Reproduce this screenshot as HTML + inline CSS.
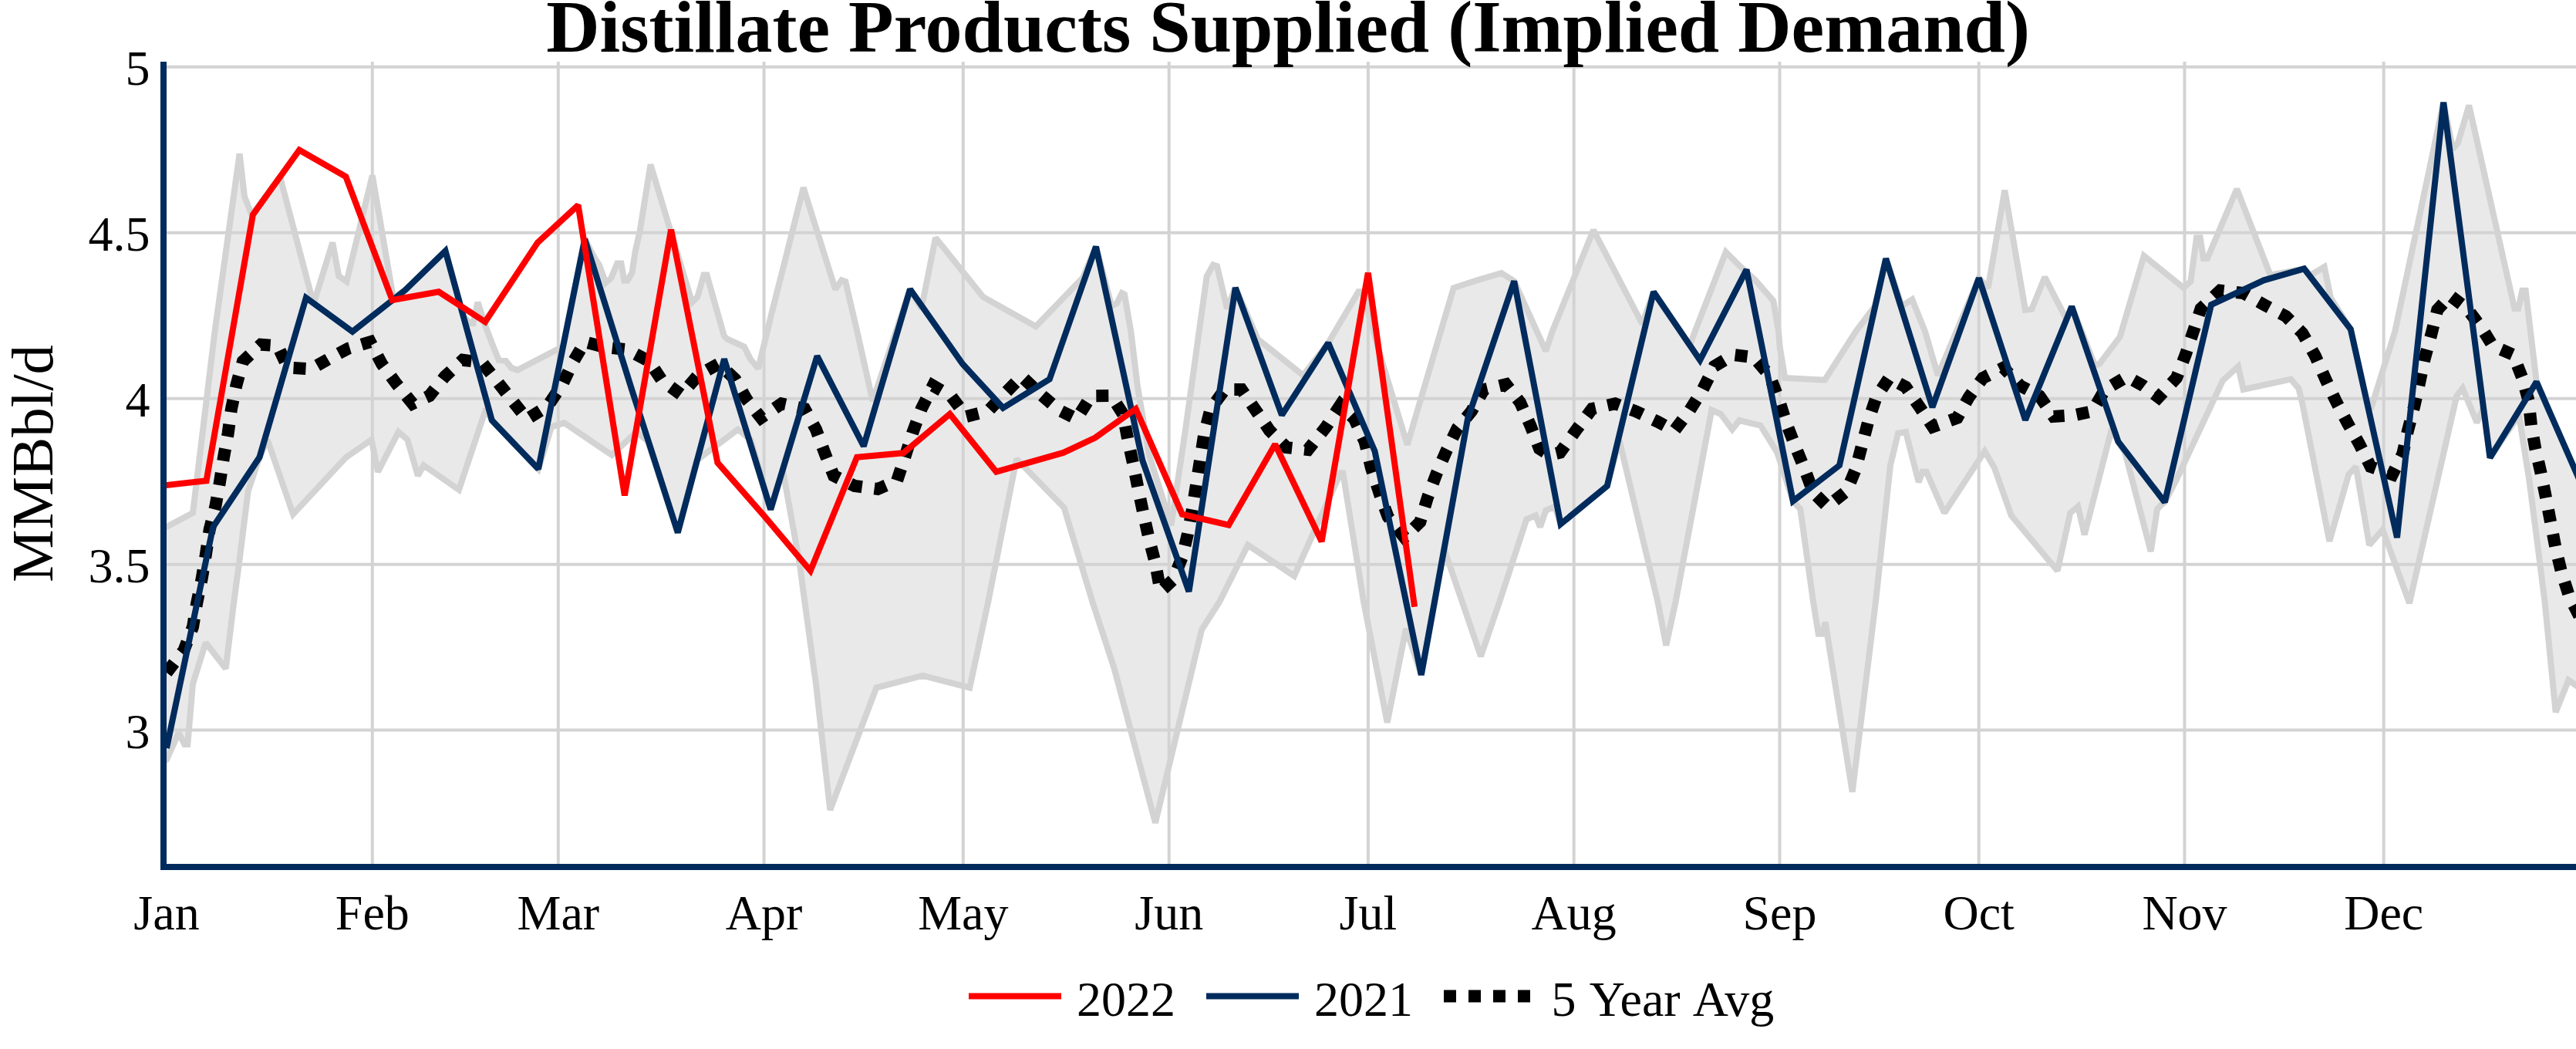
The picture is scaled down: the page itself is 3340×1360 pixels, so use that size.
<!DOCTYPE html>
<html lang="en"><head><meta charset="utf-8"><title>Distillate Products Supplied (Implied Demand)</title>
<style>html,body{margin:0;padding:0;background:#fff}svg{display:block}text{font-family:"Liberation Serif","Times New Roman",Times,serif;fill:#000}</style></head><body>
<svg width="3340" height="1360" viewBox="0 0 3340 1360">
<rect x="0" y="0" width="3340" height="1360" fill="#ffffff"/>
<defs><clipPath id="plot"><rect x="216" y="80" width="3124" height="1040"/></clipPath></defs>
<g stroke="#d3d3d3" stroke-width="4" fill="none">
<line x1="482.8" y1="80" x2="482.8" y2="1120"/>
<line x1="723.8" y1="80" x2="723.8" y2="1120"/>
<line x1="990.6" y1="80" x2="990.6" y2="1120"/>
<line x1="1248.8" y1="80" x2="1248.8" y2="1120"/>
<line x1="1515.7" y1="80" x2="1515.7" y2="1120"/>
<line x1="1773.9" y1="80" x2="1773.9" y2="1120"/>
<line x1="2040.7" y1="80" x2="2040.7" y2="1120"/>
<line x1="2307.5" y1="80" x2="2307.5" y2="1120"/>
<line x1="2565.7" y1="80" x2="2565.7" y2="1120"/>
<line x1="2832.5" y1="80" x2="2832.5" y2="1120"/>
<line x1="3090.7" y1="80" x2="3090.7" y2="1120"/>
<line x1="216" y1="86.75" x2="3340" y2="86.75"/>
<line x1="216" y1="301.7" x2="3340" y2="301.7"/>
<line x1="216" y1="516.7" x2="3340" y2="516.7"/>
<line x1="216" y1="731.7" x2="3340" y2="731.7"/>
<line x1="216" y1="946.5" x2="3340" y2="946.5"/>
</g>
<g clip-path="url(#plot)" fill="none" stroke-miterlimit="2">
<polygon points="207.0,688.0 216.0,683.0 250.0,665.0 278.5,430.0 310.6,199.2 317.0,254.8 326.5,279.0 363.0,229.0 406.5,394.0 431.2,314.4 439.3,357.9 449.4,364.9 482.8,227.5 508.3,376.8 510.0,387.0 525.4,376.1 577.5,325.4 601.0,410.0 609.3,419.2 613.4,419.2 619.5,392.0 629.6,423.3 639.7,449.6 646.7,466.7 655.8,467.7 662.9,476.8 671.0,479.9 723.5,452.6 730.0,449.0 758.2,310.0 771.0,334.4 777.0,343.5 785.2,366.7 792.3,360.6 800.3,341.4 805.4,341.4 809.4,363.7 813.5,363.7 819.5,353.6 823.6,326.3 829.6,300.0 843.5,213.3 897.3,392.0 904.4,384.9 912.5,356.6 916.5,356.6 938.8,435.4 942.8,439.5 965.0,449.6 973.1,465.7 983.2,477.8 999.8,409.0 1041.7,243.3 1083.0,375.0 1091.3,363.3 1096.3,365.0 1111.3,429.7 1131.5,520.0 1180.0,375.0 1194.7,400.0 1213.0,308.3 1274.7,385.0 1343.0,423.3 1404.0,360.0 1421.0,319.8 1441.3,396.7 1448.0,393.3 1454.7,380.0 1458.0,381.7 1466.3,429.7 1474.8,500.0 1490.0,590.0 1518.5,681.0 1536.6,560.0 1545.0,500.0 1554.7,429.7 1564.7,358.3 1573.0,343.3 1578.0,345.0 1591.0,400.0 1601.8,373.0 1631.0,440.0 1689.7,486.7 1722.2,444.6 1761.3,378.3 1766.3,378.3 1791.3,466.7 1824.7,576.7 1884.7,373.3 1915.3,363.3 1946.7,354.0 1963.2,364.5 1992.7,429.7 2004.3,455.0 2012.7,429.7 2066.0,298.3 2129.3,420.0 2144.0,378.4 2191.0,448.0 2197.7,429.7 2237.7,326.7 2256.0,345.0 2276.0,363.3 2299.3,390.0 2306.0,429.7 2307.7,450.0 2314.3,490.0 2366.0,492.7 2406.0,430.0 2431.0,397.0 2445.2,335.3 2466.0,396.7 2479.3,388.3 2496.0,429.7 2512.7,486.7 2565.8,360.5 2577.7,373.3 2599.3,246.7 2626.0,401.7 2634.3,400.7 2651.3,359.3 2679.0,413.3 2686.2,397.4 2716.0,473.3 2722.0,472.0 2748.7,436.7 2779.7,331.7 2831.3,373.3 2840.3,365.0 2848.0,308.3 2852.7,308.3 2857.0,335.0 2862.0,335.0 2900.3,245.0 2943.7,356.7 2987.5,348.3 2995.3,357.0 3013.7,346.0 3022.0,386.3 3047.8,426.7 3070.0,526.0 3075.0,527.0 3105.3,429.7 3168.2,132.7 3180.3,193.3 3187.0,185.0 3201.3,136.7 3260.3,400.0 3265.3,400.0 3270.3,376.7 3274.7,376.7 3288.8,495.2 3349.0,632.7 3345.0,892.0 3330.3,881.7 3313.7,923.3 3299.5,780.0 3289.0,697.0 3279.0,620.0 3266.0,538.0 3228.5,593.5 3220.0,528.0 3211.5,548.0 3193.0,503.3 3185.3,513.3 3124.0,782.0 3089.3,686.7 3072.0,706.7 3054.7,605.0 3045.3,615.0 3020.3,701.7 2985.3,523.3 2980.3,503.3 2970.3,491.7 2908.7,505.0 2902.0,475.0 2882.0,493.3 2822.0,621.7 2806.8,651.0 2803.7,653.3 2797.0,660.0 2788.7,715.0 2755.3,586.7 2746.5,572.7 2738.0,556.0 2702.7,693.3 2694.3,656.7 2684.3,665.0 2667.7,740.0 2607.7,668.3 2586.0,606.7 2573.3,585.0 2521.0,665.0 2497.7,611.7 2492.7,611.7 2487.7,625.0 2471.0,560.0 2461.0,561.7 2451.0,603.3 2432.0,780.0 2401.7,1026.7 2366.7,806.7 2362.7,821.7 2357.7,821.7 2351.0,780.0 2334.3,660.0 2324.8,649.7 2304.3,586.7 2282.7,551.7 2255.3,545.0 2246.0,556.7 2231.0,536.7 2219.3,531.7 2172.7,779.7 2160.3,836.7 2149.3,779.7 2101.0,576.7 2097.0,580.0 2083.8,630.0 2023.5,679.5 2016.0,656.7 2004.3,661.7 1997.0,683.3 1991.0,668.3 1979.3,673.3 1944.3,780.0 1920.0,851.0 1872.5,712.0 1842.8,875.0 1823.0,815.0 1798.7,936.7 1768.0,779.7 1741.3,613.3 1738.0,613.3 1678.0,746.7 1618.0,706.7 1581.3,780.0 1558.0,816.7 1498.0,1066.7 1444.7,866.7 1416.3,779.7 1379.7,658.3 1318.0,595.0 1281.3,780.0 1257.3,891.7 1196.3,876.0 1136.3,891.7 1076.3,1050.0 1058.0,886.7 1043.3,779.7 1036.7,730.0 1015.0,610.0 999.2,660.5 973.3,570.0 956.7,556.7 903.3,596.7 878.8,690.5 840.0,572.0 825.0,560.0 793.3,590.0 731.7,548.3 715.0,553.3 698.0,608.0 637.8,545.0 630.0,530.0 595.0,635.0 549.3,603.3 541.7,616.7 528.3,570.0 516.7,560.0 490.0,611.7 481.7,570.0 448.3,593.3 380.0,666.7 346.7,570.0 336.5,592.7 321.7,636.7 310.0,730.0 303.3,780.0 292.7,866.7 266.7,833.3 250.0,886.7 243.3,965.0 239.3,965.0 231.7,950.0 216.0,985.0 207.0,990.0" fill="#d3d3d3" fill-opacity="0.5" stroke="none"/>
<polyline points="207.0,990.0 216.0,985.0 231.7,950.0 239.3,965.0 243.3,965.0 250.0,886.7 266.7,833.3 292.7,866.7 303.3,780.0 310.0,730.0 321.7,636.7 336.5,592.7 346.7,570.0 380.0,666.7 448.3,593.3 481.7,570.0 490.0,611.7 516.7,560.0 528.3,570.0 541.7,616.7 549.3,603.3 595.0,635.0 630.0,530.0 637.8,545.0 698.0,608.0 715.0,553.3 731.7,548.3 793.3,590.0 825.0,560.0 840.0,572.0 878.8,690.5 903.3,596.7 956.7,556.7 973.3,570.0 999.2,660.5 1015.0,610.0 1036.7,730.0 1043.3,779.7 1058.0,886.7 1076.3,1050.0 1136.3,891.7 1196.3,876.0 1257.3,891.7 1281.3,780.0 1318.0,595.0 1379.7,658.3 1416.3,779.7 1444.7,866.7 1498.0,1066.7 1558.0,816.7 1581.3,780.0 1618.0,706.7 1678.0,746.7 1738.0,613.3 1741.3,613.3 1768.0,779.7 1798.7,936.7 1823.0,815.0 1842.8,875.0 1872.5,712.0 1920.0,851.0 1944.3,780.0 1979.3,673.3 1991.0,668.3 1997.0,683.3 2004.3,661.7 2016.0,656.7 2023.5,679.5 2083.8,630.0 2097.0,580.0 2101.0,576.7 2149.3,779.7 2160.3,836.7 2172.7,779.7 2219.3,531.7 2231.0,536.7 2246.0,556.7 2255.3,545.0 2282.7,551.7 2304.3,586.7 2324.8,649.7 2334.3,660.0 2351.0,780.0 2357.7,821.7 2362.7,821.7 2366.7,806.7 2401.7,1026.7 2432.0,780.0 2451.0,603.3 2461.0,561.7 2471.0,560.0 2487.7,625.0 2492.7,611.7 2497.7,611.7 2521.0,665.0 2573.3,585.0 2586.0,606.7 2607.7,668.3 2667.7,740.0 2684.3,665.0 2694.3,656.7 2702.7,693.3 2738.0,556.0 2746.5,572.7 2755.3,586.7 2788.7,715.0 2797.0,660.0 2803.7,653.3 2806.8,651.0 2822.0,621.7 2882.0,493.3 2902.0,475.0 2908.7,505.0 2970.3,491.7 2980.3,503.3 2985.3,523.3 3020.3,701.7 3045.3,615.0 3054.7,605.0 3072.0,706.7 3089.3,686.7 3124.0,782.0 3185.3,513.3 3193.0,503.3 3211.5,548.0 3220.0,528.0 3228.5,593.5 3266.0,538.0 3279.0,620.0 3289.0,697.0 3299.5,780.0 3313.7,923.3 3330.3,881.7 3345.0,892.0" stroke="#d3d3d3" stroke-width="8"/>
<polyline points="207.0,688.0 216.0,683.0 250.0,665.0 278.5,430.0 310.6,199.2 317.0,254.8 326.5,279.0 363.0,229.0 406.5,394.0 431.2,314.4 439.3,357.9 449.4,364.9 482.8,227.5 508.3,376.8 510.0,387.0 525.4,376.1 577.5,325.4 601.0,410.0 609.3,419.2 613.4,419.2 619.5,392.0 629.6,423.3 639.7,449.6 646.7,466.7 655.8,467.7 662.9,476.8 671.0,479.9 723.5,452.6 730.0,449.0 758.2,310.0 771.0,334.4 777.0,343.5 785.2,366.7 792.3,360.6 800.3,341.4 805.4,341.4 809.4,363.7 813.5,363.7 819.5,353.6 823.6,326.3 829.6,300.0 843.5,213.3 897.3,392.0 904.4,384.9 912.5,356.6 916.5,356.6 938.8,435.4 942.8,439.5 965.0,449.6 973.1,465.7 983.2,477.8 999.8,409.0 1041.7,243.3 1083.0,375.0 1091.3,363.3 1096.3,365.0 1111.3,429.7 1131.5,520.0 1180.0,375.0 1194.7,400.0 1213.0,308.3 1274.7,385.0 1343.0,423.3 1404.0,360.0 1421.0,319.8 1441.3,396.7 1448.0,393.3 1454.7,380.0 1458.0,381.7 1466.3,429.7 1474.8,500.0 1490.0,590.0 1518.5,681.0 1536.6,560.0 1545.0,500.0 1554.7,429.7 1564.7,358.3 1573.0,343.3 1578.0,345.0 1591.0,400.0 1601.8,373.0 1631.0,440.0 1689.7,486.7 1722.2,444.6 1761.3,378.3 1766.3,378.3 1791.3,466.7 1824.7,576.7 1884.7,373.3 1915.3,363.3 1946.7,354.0 1963.2,364.5 1992.7,429.7 2004.3,455.0 2012.7,429.7 2066.0,298.3 2129.3,420.0 2144.0,378.4 2191.0,448.0 2197.7,429.7 2237.7,326.7 2256.0,345.0 2276.0,363.3 2299.3,390.0 2306.0,429.7 2307.7,450.0 2314.3,490.0 2366.0,492.7 2406.0,430.0 2431.0,397.0 2445.2,335.3 2466.0,396.7 2479.3,388.3 2496.0,429.7 2512.7,486.7 2565.8,360.5 2577.7,373.3 2599.3,246.7 2626.0,401.7 2634.3,400.7 2651.3,359.3 2679.0,413.3 2686.2,397.4 2716.0,473.3 2722.0,472.0 2748.7,436.7 2779.7,331.7 2831.3,373.3 2840.3,365.0 2848.0,308.3 2852.7,308.3 2857.0,335.0 2862.0,335.0 2900.3,245.0 2943.7,356.7 2987.5,348.3 2995.3,357.0 3013.7,346.0 3022.0,386.3 3047.8,426.7 3070.0,526.0 3075.0,527.0 3105.3,429.7 3168.2,132.7 3180.3,193.3 3187.0,185.0 3201.3,136.7 3260.3,400.0 3265.3,400.0 3270.3,376.7 3274.7,376.7 3288.8,495.2 3349.0,632.7" stroke="#d3d3d3" stroke-width="8"/>
<polyline points="216.0,872.0 238.3,843.3 250.0,813.0 255.0,783.0 261.7,750.0 266.7,720.0 271.7,686.7 279.3,656.7 285.0,625.0 290.0,593.0 295.7,561.7 300.0,530.0 306.7,498.3 315.0,468.3 338.3,446.7 360.0,448.3 373.3,476.7 403.3,478.3 426.7,465.0 451.7,451.7 480.0,443.3 495.0,471.7 513.3,496.7 535.0,523.3 556.7,513.3 576.7,488.3 600.0,466.7 625.0,470.0 645.0,495.0 663.3,518.3 683.3,543.3 710.0,526.7 730.0,496.7 741.7,471.7 758.3,443.3 783.3,450.0 813.3,453.3 841.7,468.3 858.3,493.3 883.3,511.7 905.0,486.7 931.7,471.7 953.3,491.7 968.3,518.3 986.7,541.7 1013.3,523.3 1043.3,530.0 1058.0,556.7 1069.7,588.3 1081.0,616.7 1108.0,630.0 1138.0,634.0 1163.0,623.3 1173.0,593.3 1183.0,561.7 1194.7,530.0 1209.7,500.0 1233.0,513.3 1253.0,540.0 1281.0,533.0 1303.0,510.0 1324.7,488.0 1348.0,510.0 1373.0,531.7 1396.0,543.0 1414.7,513.3 1441.0,513.0 1456.0,536.7 1463.0,573.0 1469.7,603.3 1476.3,636.7 1483.0,668.3 1489.7,698.3 1498.0,730.0 1504.7,766.7 1521.0,751.7 1533.0,721.7 1539.7,693.3 1546.3,658.3 1551.3,626.7 1556.3,595.0 1561.3,563.3 1569.7,530.0 1588.0,505.0 1609.7,505.0 1628.0,531.7 1646.0,558.0 1668.0,580.0 1696.0,583.0 1719.7,553.0 1738.0,525.0 1756.0,543.0 1769.7,573.0 1778.0,606.7 1789.7,643.0 1799.7,670.0 1821.0,696.7 1841.3,676.7 1851.0,645.0 1863.0,613.0 1876.0,583.0 1889.7,555.0 1908.0,533.0 1924.0,505.0 1952.7,498.3 1971.0,521.7 1984.3,551.7 1996.0,581.7 2009.0,590.0 2022.7,586.7 2044.3,556.7 2064.3,530.0 2094.3,523.3 2121.0,533.3 2149.3,546.7 2171.0,558.3 2191.0,531.7 2207.7,505.0 2222.7,475.0 2247.7,460.0 2274.3,463.3 2294.3,486.7 2306.0,516.7 2316.0,548.3 2327.7,578.3 2339.3,606.7 2351.0,638.3 2369.3,656.7 2394.3,636.7 2406.0,608.3 2414.3,576.7 2422.7,545.0 2432.7,515.0 2449.3,490.0 2471.0,501.7 2489.3,528.3 2506.0,553.3 2537.7,541.7 2552.7,515.0 2571.0,490.0 2597.7,476.7 2619.3,500.0 2644.3,513.3 2662.7,540.0 2689.3,538.3 2712.7,533.3 2729.3,505.0 2757.7,488.3 2778.7,500.0 2798.7,515.0 2822.0,490.0 2833.7,460.0 2843.7,430.0 2853.7,400.0 2878.7,376.7 2908.7,380.0 2935.3,395.0 2963.7,410.0 2985.3,432.0 3002.0,461.7 3015.3,491.7 3028.7,520.0 3043.7,548.3 3058.7,575.0 3073.7,605.0 3102.0,615.0 3115.3,588.3 3122.0,558.3 3130.3,526.7 3137.0,496.7 3143.7,465.0 3152.0,435.0 3160.3,401.7 3177.0,383.3 3198.7,400.0 3218.7,426.7 3232.0,448.3 3258.7,460.0 3270.3,490.0 3278.7,520.0 3282.0,551.7 3287.2,581.2 3294.7,613.7 3301.0,645.0 3307.2,677.5 3313.5,710.0 3321.0,741.2 3331.0,772.5 3345.0,800.0" stroke="#000" stroke-width="16" stroke-dasharray="16,16"/>
<polyline points="216.0,970.0 276.2,683.3 336.5,592.7 396.8,386.0 457.0,430.0 525.4,376.1 577.5,325.4 637.8,545.0 698.0,608.0 758.2,310.0 818.5,503.0 878.8,690.5 939.0,465.5 999.2,660.5 1059.5,461.7 1119.8,578.5 1180.0,375.0 1248.0,471.7 1300.5,528.8 1360.8,491.7 1421.0,319.8 1481.2,596.7 1541.5,767.0 1601.8,373.0 1662.0,538.2 1722.2,444.6 1782.5,585.0 1842.8,875.0 1903.0,543.3 1963.2,364.5 2023.5,679.5 2083.8,630.0 2144.0,378.4 2204.2,467.0 2264.5,349.6 2324.8,649.7 2385.0,603.3 2445.2,335.3 2505.5,528.0 2565.8,360.5 2626.0,544.6 2686.2,397.4 2746.5,572.7 2806.8,651.0 2867.0,395.0 2935.3,363.3 2987.5,348.3 3047.8,426.7 3108.0,697.0 3168.2,132.7 3228.5,593.5 3288.8,495.2 3349.0,632.7" stroke="#002b5c" stroke-width="8"/>
<polyline points="207.3,630.0 267.6,623.3 327.9,278.3 388.1,194.5 448.4,229.0 508.6,389.0 568.9,378.3 629.1,417.3 697.0,314.5 749.6,266.0 809.9,642.3 870.1,297.7 930.4,600.0 990.6,668.7 1050.8,740.0 1111.1,592.7 1171.3,587.3 1231.6,536.7 1291.8,611.7 1378.7,586.9 1419.9,567.5 1472.6,530.0 1532.8,666.7 1593.1,680.7 1653.3,576.0 1713.6,702.0 1773.8,353.7 1834.1,786.7" stroke="#ff0000" stroke-width="8"/>
</g>
<line x1="212" y1="80" x2="212" y2="1128" stroke="#002b5c" stroke-width="8"/>
<line x1="208" y1="1124" x2="3340" y2="1124" stroke="#002b5c" stroke-width="8"/>
<text x="1670" y="67" font-size="96" font-weight="bold" text-anchor="middle">Distillate Products Supplied (Implied Demand)</text>
<text x="194.5" y="110.2" font-size="64" text-anchor="end">5</text>
<text x="194.5" y="325.2" font-size="64" text-anchor="end">4.5</text>
<text x="194.5" y="540.2" font-size="64" text-anchor="end">4</text>
<text x="194.5" y="755.2" font-size="64" text-anchor="end">3.5</text>
<text x="194.5" y="970.0" font-size="64" text-anchor="end">3</text>
<text x="216.0" y="1205" font-size="64" text-anchor="middle">Jan</text>
<text x="482.8" y="1205" font-size="64" text-anchor="middle">Feb</text>
<text x="723.8" y="1205" font-size="64" text-anchor="middle">Mar</text>
<text x="990.6" y="1205" font-size="64" text-anchor="middle">Apr</text>
<text x="1248.8" y="1205" font-size="64" text-anchor="middle">May</text>
<text x="1515.7" y="1205" font-size="64" text-anchor="middle">Jun</text>
<text x="1773.9" y="1205" font-size="64" text-anchor="middle">Jul</text>
<text x="2040.7" y="1205" font-size="64" text-anchor="middle">Aug</text>
<text x="2307.5" y="1205" font-size="64" text-anchor="middle">Sep</text>
<text x="2565.7" y="1205" font-size="64" text-anchor="middle">Oct</text>
<text x="2832.5" y="1205" font-size="64" text-anchor="middle">Nov</text>
<text x="3090.7" y="1205" font-size="64" text-anchor="middle">Dec</text>
<text transform="translate(67.5,601) rotate(-90)" font-size="77" text-anchor="middle">MMBbl/d</text>
<line x1="1256" y1="1291.5" x2="1376" y2="1291.5" stroke="#ff0000" stroke-width="8"/>
<text x="1396" y="1316.5" font-size="64">2022</text>
<line x1="1564" y1="1291.5" x2="1684" y2="1291.5" stroke="#002b5c" stroke-width="8"/>
<text x="1704" y="1316.5" font-size="64">2021</text>
<line x1="1872" y1="1291.5" x2="1992" y2="1291.5" stroke="#000" stroke-width="16" stroke-dasharray="16,16"/>
<text x="2011.5" y="1316.5" font-size="64" word-spacing="3.6">5 Year Avg</text>
</svg></body></html>
